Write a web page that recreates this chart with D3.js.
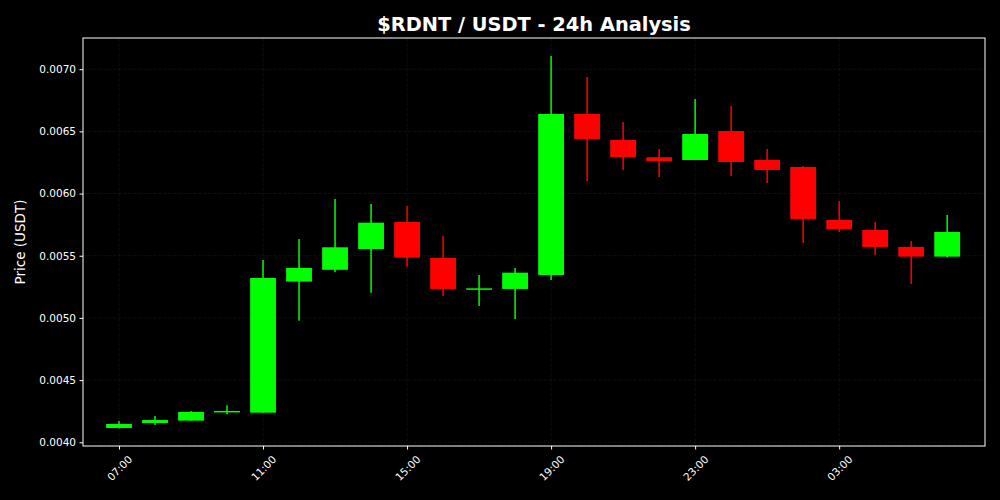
<!DOCTYPE html>
<html>
<head>
<meta charset="utf-8">
<script src="https://cdn.jsdelivr.net/npm/d3@7"></script>
<style>
  html, body { margin: 0; padding: 0; background: #000; }
  svg { display: block; }
  .axis text { fill: #fff; font-family: "DejaVu Sans", sans-serif; font-size: 10.5px; }
  .axis path, .axis line { stroke: #fff; }
</style>
</head>
<body>
<svg></svg>
<script>
var times = [
  "2024-05-01T07:00:00Z", "2024-05-01T08:00:00Z", "2024-05-01T09:00:00Z", "2024-05-01T10:00:00Z",
  "2024-05-01T11:00:00Z", "2024-05-01T12:00:00Z", "2024-05-01T13:00:00Z", "2024-05-01T14:00:00Z",
  "2024-05-01T15:00:00Z", "2024-05-01T16:00:00Z", "2024-05-01T17:00:00Z", "2024-05-01T18:00:00Z",
  "2024-05-01T19:00:00Z", "2024-05-01T20:00:00Z", "2024-05-01T21:00:00Z", "2024-05-01T22:00:00Z",
  "2024-05-01T23:00:00Z", "2024-05-02T00:00:00Z", "2024-05-02T01:00:00Z", "2024-05-02T02:00:00Z",
  "2024-05-02T03:00:00Z", "2024-05-02T04:00:00Z", "2024-05-02T05:00:00Z", "2024-05-02T06:00:00Z"];

var opens  = [0.004115, 0.004155, 0.004174, 0.004249, 0.004238, 0.005292, 0.005387, 0.005554,
              0.005772, 0.005482, 0.005233, 0.005233, 0.005345, 0.006640, 0.006431, 0.006292,
              0.006270, 0.006503, 0.006270, 0.006214, 0.005788, 0.005707, 0.005571, 0.005493];
var highs  = [0.004171, 0.004212, 0.004252, 0.004298, 0.005466, 0.005635, 0.005957, 0.005916,
              0.005900, 0.005659, 0.005345, 0.005402, 0.007107, 0.006938, 0.006576, 0.006359,
              0.006760, 0.006704, 0.006359, 0.006222, 0.005941, 0.005772, 0.005619, 0.005828];
var lows   = [0.004110, 0.004139, 0.004174, 0.004225, 0.004238, 0.004978, 0.005367, 0.005203,
              0.005412, 0.005177, 0.005096, 0.004992, 0.005305, 0.006102, 0.006190, 0.006134,
              0.006270, 0.006142, 0.006085, 0.005603, 0.005691, 0.005506, 0.005273, 0.005485];
var closes = [0.004147, 0.004179, 0.004244, 0.004252, 0.005321, 0.005402, 0.005568, 0.005766,
              0.005485, 0.005233, 0.005238, 0.005364, 0.006640, 0.006439, 0.006294, 0.006262,
              0.006479, 0.006254, 0.006190, 0.005796, 0.005715, 0.005571, 0.005493, 0.005691];

var yTicks = [0.0040, 0.0045, 0.0050, 0.0055, 0.0060, 0.0065, 0.0070];
var xTicks = ["2024-05-01T07:00:00Z", "2024-05-01T11:00:00Z", "2024-05-01T15:00:00Z",
              "2024-05-01T19:00:00Z", "2024-05-01T23:00:00Z", "2024-05-02T03:00:00Z"];

var W = 1000, H = 500;
var margin = { top: 38, right: 15, bottom: 54, left: 83 },
    width = W - margin.left - margin.right,
    height = H - margin.top - margin.bottom;

var parse = d3.utcParse("%Y-%m-%dT%H:%M:%SZ");
var data = times.map(function(t, i) {
  return { time: parse(t), open: opens[i], high: highs[i], low: lows[i], close: closes[i] };
});

var x = d3.scaleUtc()
    .domain([parse("2024-05-01T06:00:00Z"), parse("2024-05-02T07:03:00Z")])
    .range([0, width]);
var y = d3.scaleLinear()
    .domain([0.003970, 0.007251])
    .range([height, 0]);

var svg = d3.select("svg")
    .attr("width", W)
    .attr("height", H)
    .style("background", "#000");

svg.append("rect").attr("width", W).attr("height", H).attr("fill", "#000");

var g = svg.append("g")
    .attr("transform", "translate(" + margin.left + "," + margin.top + ")");

// grid
g.selectAll(".hgrid").data(yTicks).enter().append("line")
    .attr("x1", 0).attr("x2", width)
    .attr("y1", function(d) { return y(d); }).attr("y2", function(d) { return y(d); })
    .style("stroke", "#808080").style("stroke-opacity", 0.15)
    .style("stroke-width", 0.8).style("stroke-dasharray", "3.5,1.5");
g.selectAll(".vgrid").data(xTicks).enter().append("line")
    .attr("x1", function(d) { return x(parse(d)); }).attr("x2", function(d) { return x(parse(d)); })
    .attr("y1", 0).attr("y2", height)
    .style("stroke", "#808080").style("stroke-opacity", 0.15)
    .style("stroke-width", 0.8).style("stroke-dasharray", "3.5,1.5");

// candles
var bodyW = x(parse("2024-05-01T07:43:00Z")) - x(parse("2024-05-01T07:00:00Z"));
var color = function(d) { return d.close >= d.open ? "#00ff00" : "#ff0000"; };

var candle = g.selectAll(".candle").data(data).enter().append("g").attr("class", "candle");
candle.append("line")
    .attr("x1", function(d) { return x(d.time); })
    .attr("x2", function(d) { return x(d.time); })
    .attr("y1", function(d) { return y(d.high); })
    .attr("y2", function(d) { return y(d.low); })
    .style("stroke", color).style("stroke-width", 1.5);
candle.append("rect")
    .attr("x", function(d) { return x(d.time) - bodyW / 2; })
    .attr("width", bodyW)
    .attr("y", function(d) { return y(Math.max(d.open, d.close)); })
    .attr("height", function(d) { return Math.max(1.5, Math.abs(y(d.open) - y(d.close))); })
    .style("fill", color);

// axes
var yAxis = g.append("g").attr("class", "axis")
    .call(d3.axisLeft(y).tickValues(yTicks).tickFormat(d3.format(".4f")).tickSize(3.5).tickPadding(3.5));
yAxis.select(".domain").remove();

var xAxis = g.append("g").attr("class", "axis")
    .attr("transform", "translate(0," + height + ")")
    .call(d3.axisBottom(x).tickValues(xTicks.map(parse)).tickFormat(d3.utcFormat("%H:%M")).tickSize(3.5));
xAxis.select(".domain").remove();
xAxis.selectAll("text")
    .attr("y", 0).attr("dy", 0)
    .attr("text-anchor", "middle")
    .attr("dominant-baseline", "central")
    .attr("transform", "translate(0,22) rotate(-45)");

// frame
g.append("rect")
    .attr("width", width).attr("height", height)
    .style("fill", "none").style("stroke", "#fff").style("stroke-width", 1);

// labels
svg.append("text")
    .attr("x", margin.left + width / 2)
    .attr("y", 31)
    .attr("text-anchor", "middle")
    .style("font-family", "DejaVu Sans, sans-serif")
    .style("font-weight", "bold")
    .style("font-size", "19.4px")
    .style("fill", "#fff")
    .text("$RDNT / USDT - 24h Analysis");

svg.append("text")
    .attr("transform", "translate(25," + (margin.top + height / 2) + ") rotate(-90)")
    .attr("text-anchor", "middle")
    .style("font-family", "DejaVu Sans, sans-serif")
    .style("font-size", "13.5px")
    .style("fill", "#fff")
    .text("Price (USDT)");
</script>
</body>
</html>
